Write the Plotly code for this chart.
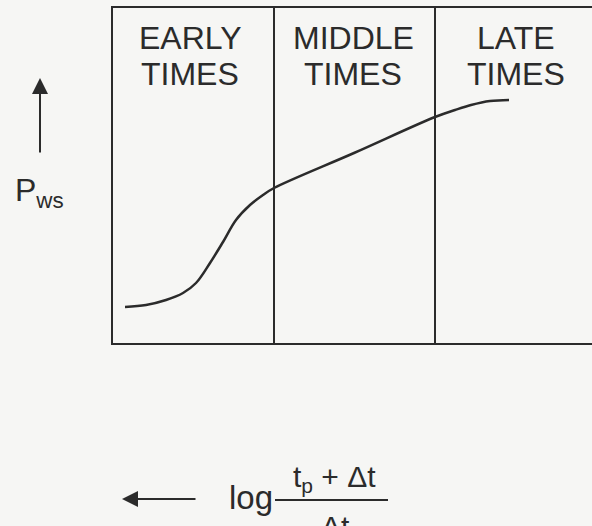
import plotly.graph_objects as go

# Schematic Horner plot: shut-in pressure vs log((tp + dt) / dt)
# x and y in arbitrary units across the plotting box
curve_x = [12, 33, 53, 70, 83, 97, 110, 123, 137, 150, 161,
           241, 322, 342, 358, 377, 396]
curve_y = [36, 38, 43, 50, 60, 80, 101, 123, 138, 148, 155,
           190, 226, 233, 238, 242, 243]

region_bounds = [161, 322]
region_names = [('EARLY', 'TIMES'), ('MIDDLE', 'TIMES'), ('LATE', 'TIMES')]
region_centers = [77, 240, 403]

X_RANGE = [0, 479]
Y_RANGE = [0, 335]

INK = '#2b2b2b'
FONT = 'Liberation Sans, Arial, sans-serif'

# page pixel -> paper coordinate helpers (plot box is 113..592 x 8..343)
L, R, T, B = 113, 592, 8, 343


def px(x):
    return (x - L) / (R - L)


def py(y):
    return (B - y) / (B - T)


def label(x, y, text, size=32, xanchor='center'):
    return dict(x=px(x), y=py(y), xref='paper', yref='paper', text=text,
                showarrow=False, xanchor=xanchor, yanchor='middle',
                font=dict(size=size, color=INK, family=FONT))


fig = go.Figure()

fig.add_trace(go.Scatter(
    x=curve_x, y=curve_y,
    mode='lines',
    line=dict(color=INK, width=2.5, shape='spline', smoothing=1.0),
    showlegend=False,
    hoverinfo='skip',
))

for xb in region_bounds:
    fig.add_vline(x=xb, line=dict(color=INK, width=2))

annotations = []
for (top, bottom), xc in zip(region_names, region_centers):
    annotations.append(dict(x=xc, y=py(38), xref='x', yref='paper', text=top,
                            showarrow=False, yanchor='middle',
                            font=dict(size=32, color=INK, family=FONT)))
    annotations.append(dict(x=xc, y=py(74), xref='x', yref='paper', text=bottom,
                            showarrow=False, yanchor='middle',
                            font=dict(size=32, color=INK, family=FONT)))

# y label with upward arrow
annotations.append(dict(x=px(40), y=py(78), xref='paper', yref='paper', text='',
                        showarrow=True, ax=0, ay=76, arrowhead=2, arrowsize=1.6,
                        arrowwidth=2, arrowcolor=INK))
annotations.append(label(13, 192, 'P<sub>ws</sub>', xanchor='left'))

# x label with leftward arrow and fraction
annotations.append(dict(x=px(122), y=py(499), xref='paper', yref='paper', text='',
                        showarrow=True, ax=75, ay=0, arrowhead=2, arrowsize=1.6,
                        arrowwidth=2, arrowcolor=INK))
annotations.append(label(251, 497, 'log', size=33))
annotations.append(label(334, 478, 't<sub>p</sub>\u00a0+\u00a0\u0394t', size=30))
annotations.append(label(335, 526, '\u0394t', size=30))

fig.add_shape(type='line', xref='paper', yref='paper',
              x0=px(275), x1=px(388), y0=py(500), y1=py(500),
              line=dict(color=INK, width=2))

fig.update_layout(
    width=592, height=526,
    margin=dict(l=L, r=0, t=T, b=526 - B),
    paper_bgcolor='#f6f6f4',
    plot_bgcolor='#f6f6f4',
    annotations=annotations,
    xaxis=dict(range=X_RANGE, showgrid=False, zeroline=False, showticklabels=False,
               ticks='', showline=True, linecolor=INK, linewidth=2, mirror=True),
    yaxis=dict(range=Y_RANGE, showgrid=False, zeroline=False, showticklabels=False,
               ticks='', showline=True, linecolor=INK, linewidth=2),
)

fig.write_html('out.html', config={'displayModeBar': False},
               post_script="document.body.style.margin='0';")
